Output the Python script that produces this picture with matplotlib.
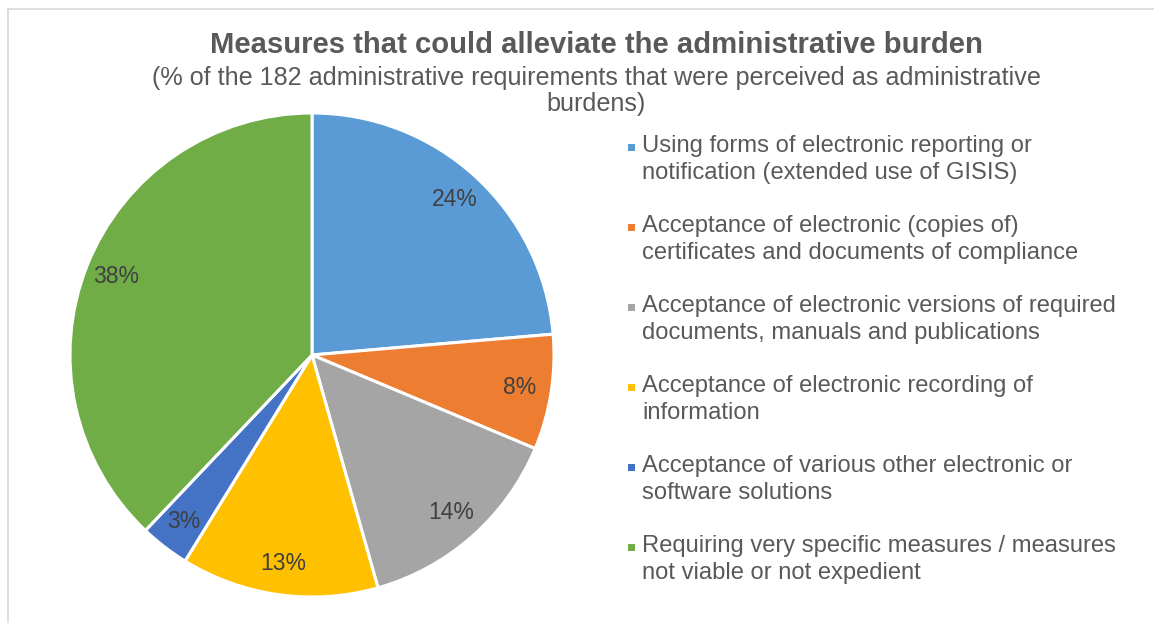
import matplotlib.pyplot as plt
from matplotlib.patches import Rectangle
from matplotlib.lines import Line2D

# Measures that could alleviate the administrative burden (counts out of 182 requirements)
labels = [
    "Using forms of electronic reporting or\nnotification (extended use of GISIS)",
    "Acceptance of electronic (copies of)\ncertificates and documents of compliance",
    "Acceptance of electronic versions of required\ndocuments, manuals and publications",
    "Acceptance of electronic recording of\ninformation",
    "Acceptance of various other electronic or\nsoftware solutions",
    "Requiring very specific measures / measures\nnot viable or not expedient",
]
counts = [43, 14, 26, 24, 6, 69]
colors = ["#5B9BD5", "#ED7D31", "#A5A5A5", "#FFC000", "#4472C4", "#70AD47"]

title = "Measures that could alleviate the administrative burden"
subtitle = "(% of the 182 administrative requirements that were perceived as administrative\nburdens)"

plt.rcParams['font.family'] = ['Liberation Sans', 'DejaVu Sans']
W, H = 1154, 623
fig = plt.figure(figsize=(W / 100, H / 100), dpi=100)

# light chart-area border (top and left only visible in the crop)
fig.add_artist(Line2D([8 / W, 8 / W], [0, 1 - 9 / H], transform=fig.transFigure, color="#D9D9D9", lw=1.2))
fig.add_artist(Line2D([8 / W, 1], [1 - 9 / H, 1 - 9 / H], transform=fig.transFigure, color="#D9D9D9", lw=1.2))

# pie: centre (312, 355) px, radius 242 px
cx, cy, r = 312, 355, 242
ax = fig.add_axes([(cx - r) / W, (H - cy - r) / H, 2 * r / W, 2 * r / H])
wedges, texts, autotexts = ax.pie(
    counts, colors=colors, startangle=90, counterclock=False,
    autopct=lambda p: f"{p:.0f}%", pctdistance=0.87,
    wedgeprops=dict(edgecolor="white", linewidth=2.2),
    textprops=dict(color="#404040", fontsize=16.5),
)
ax.set_xlim(-1, 1)
ax.set_ylim(-1, 1)
ax.set_aspect("auto")
ax.axis("off")

# titles
fig.text(596 / W, 1 - 45 / H, title, ha="center", va="center", fontsize=21.1, fontweight="bold", color="#595959")
sub1, sub2 = subtitle.split("\n")
fig.text(596 / W, 1 - 78 / H, sub1, ha="center", va="center", fontsize=18.1, color="#595959")
fig.text(596 / W, 1 - 104 / H, sub2, ha="center", va="center", fontsize=18.1, color="#595959")

# legend, drawn by hand so the marker sits by the first line
for i, (lab, col) in enumerate(zip(labels, colors)):
    base = 152 + 80 * i
    fig.add_artist(Rectangle((628 / W, 1 - (base - 1) / H), 7 / W, 7 / H,
                             transform=fig.transFigure, color=col, lw=0))
    for j, line in enumerate(lab.split("\n")):
        fig.text(642 / W, 1 - (base + 27 * j) / H, line, ha="left", va="baseline",
                 fontsize=17.1, color="#595959")

fig.savefig("out.png", dpi=100)
